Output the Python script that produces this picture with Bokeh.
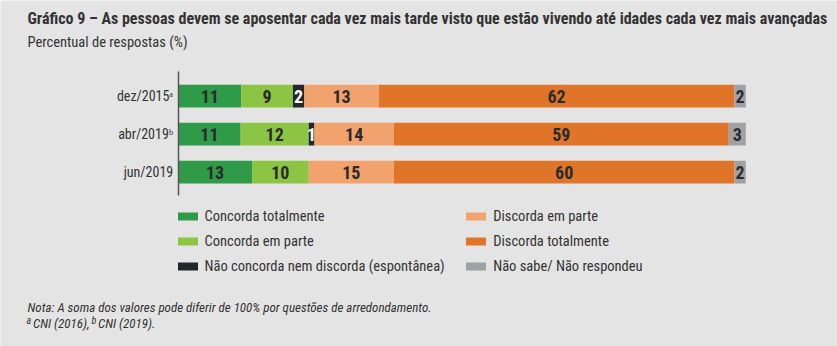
from bokeh.plotting import figure
from bokeh.models import ColumnDataSource, Range1d, Label, Legend, LegendItem, FixedTicker
from bokeh.core.properties import value
from bokeh.embed import file_html
from bokeh.resources import INLINE

# ---------------- data ----------------
categories = ["dez/2015ᵃ", "abr/2019ᵇ", "jun/2019"]
series_names = [
    "Concorda totalmente",
    "Concorda em parte",
    "Não concorda nem discorda (espontânea)",
    "Discorda em parte",
    "Discorda totalmente",
    "Não sabe/ Não respondeu",
]
concorda_totalmente = [11, 11, 13]
concorda_em_parte = [9, 12, 10]
nem_concorda_nem_discorda = [2, 1, 0]
discorda_em_parte = [13, 14, 15]
discorda_totalmente = [62, 59, 60]
nao_sabe = [2, 3, 2]

title_text = "Gráfico 9 – As pessoas devem se aposentar cada vez mais tarde visto que estão vivendo até idades cada vez mais avançadas"
subtitle_text = "Percentual de respostas (%)"
note_line1 = "Nota: A soma dos valores pode diferir de 100% por questões de arredondamento."
note_line2_parts = [("a", True), ("CNI (2016),", False), ("b", True), ("CNI (2019).", False)]

# ---------------- style ----------------
W, H = 837, 346
BG = "#e4e4e4"
FONT = "Roboto Condensed"
colors = ["#2f9a48", "#8cc543", "#23272b", "#f2a26c", "#e07428", "#9fa1a4"]
label_colors = ["#2b2b2b", "#2b2b2b", "#ffffff", "#2b2b2b", "#2b2b2b", "#2b2b2b"]
TXT = "#333333"

series = [concorda_totalmente, concorda_em_parte, nem_concorda_nem_discorda,
          discorda_em_parte, discorda_totalmente, nao_sabe]
keys = ["s%d" % i for i in range(len(series))]
ypos = [3, 2, 1]
totals = [sum(v) for v in zip(*series)]

data = {"y": ypos, "cat": categories}
for k, vals in zip(keys, series):
    data[k] = [v / t * 100 for v, t in zip(vals, totals)]
source = ColumnDataSource(data)

# frame covers the whole canvas; bar zone: x 0..100 -> px 177.7..745.3, rows 38px apart
px_per_x = (745.3 - 177.7) / 100.0
x0 = -177.7 / px_per_x
y_top = 3 + 95.7 / 38.0
p = figure(width=W, height=H,
           x_range=Range1d(x0, x0 + W / px_per_x),
           y_range=Range1d(y_top - H / 38.0, y_top),
           output_backend="svg", toolbar_location=None, min_border=0)
p.title.visible = False
p.background_fill_color = BG
p.border_fill_color = BG
p.outline_line_color = None
p.xgrid.visible = False
p.ygrid.visible = False
p.xaxis.visible = False

renderers = p.hbar_stack(keys, y="y", height=0.6, color=colors, source=source, line_color=None)

# value labels
lx, ly, lt, lc = [], [], [], []
for i in range(len(ypos)):
    left = 0.0
    for k, vals, col in zip(keys, series, label_colors):
        w = data[k][i]
        if vals[i] > 0:
            lx.append(left + w / 2)
            ly.append(ypos[i])
            lt.append(str(vals[i]))
            lc.append(col)
        left += w
p.text(x=lx, y=ly, text=lt, text_color=lc, text_align="center", text_baseline="middle",
       text_font=value(FONT), text_font_style="bold", text_font_size="18px")

# y axis drawn at x = 0
yax = p.yaxis[0]
yax.fixed_location = 0
yax.bounds = (0.387, 3.65)
yax.ticker = FixedTicker(ticks=ypos)
yax.major_label_overrides = {y: c for y, c in zip(ypos, categories)}
yax.axis_line_color = "#555555"
yax.axis_line_width = 1.5
yax.major_tick_line_color = None
yax.minor_tick_line_color = None
yax.major_tick_out = 0
yax.major_tick_in = 0
yax.major_label_standoff = 5
yax.major_label_text_font = FONT
yax.major_label_text_font_size = "14px"
yax.major_label_text_color = TXT

# legends (screen coordinates from bottom-left of the canvas)
def make_legend(idx, loc):
    return Legend(items=[LegendItem(label=series_names[i], renderers=[renderers[i]]) for i in idx],
                  location=loc, orientation="vertical",
                  border_line_color=None, background_fill_alpha=0, padding=0, margin=0,
                  spacing=8, glyph_width=25, glyph_height=10, label_standoff=5,
                  label_height=17, label_text_font=FONT, label_text_font_size="14.5px",
                  label_text_color=TXT)

p.add_layout(make_legend([0, 1, 2], (174.5, 71.5)))
p.add_layout(make_legend([3, 4, 5], (463.2, 71.5)))

# texts
def lab(x, y, text, size, style="normal", font=FONT, color=TXT):
    p.add_layout(Label(x=x, y=H - y, x_units="screen", y_units="screen", text=text,
                       text_font=font, text_font_size=size, text_font_style=style,
                       text_color=color, text_baseline="middle"))

lab(27, 18, title_text, "16px", "bold")
lab(27, 42, subtitle_text, "14.5px")
lab(27, 307, note_line1, "13px", "italic")
# second note line with superscript markers
part_x = [26, 32.5, 91, 97.5]
for (txt, sup), xx in zip(note_line2_parts, part_x):
    if sup:
        lab(xx, 319.5, txt, "10px", "italic")
    else:
        lab(xx, 323, txt, "13px", "italic")

open("out.html", "w").write(file_html(p, INLINE))
